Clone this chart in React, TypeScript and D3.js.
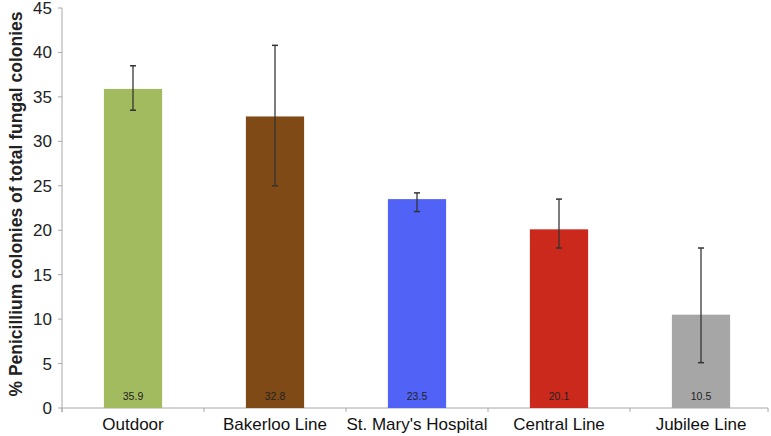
import React from 'react';
import * as d3 from 'd3';

const categories = ['Outdoor', 'Bakerloo Line', "St. Mary's Hospital", 'Central Line', 'Jubilee Line'];
const values = [35.9, 32.8, 23.5, 20.1, 10.5];
const errUp = [2.6, 8.0, 0.7, 3.4, 7.5];
const errDown = [2.4, 7.8, 1.4, 2.1, 5.4];
const colors = ['#a3bb5f', '#7f4a16', '#5162f7', '#cc291d', '#a6a6a6'];
const yTicks = [0, 5, 10, 15, 20, 25, 30, 35, 40, 45];

const W = 771;
const H = 436;
const left = 62;
const right = 772;
const top = 8;
const bottom = 408;

function App() {
  const x = d3.scaleBand<string>().domain(categories).range([left, right]).paddingInner(0.59).paddingOuter(0.295);
  const y = d3.scaleLinear().domain([0, 45]).range([bottom, top]);
  const gap = (x.step() - x.bandwidth()) / 2;
  const bounds = categories.map(c => (x(c) as number) - gap).concat([(x(categories[categories.length - 1]) as number) + x.bandwidth() + gap]);
  const axisColor = '#a8a8a8';

  return (
    <svg width={W} height={H} style={{ position: 'absolute', left: 0, top: 0, fontFamily: '"Liberation Sans", Arial, sans-serif' }}>
      <rect width={W} height={H} fill="#fff" />
      {/* axes */}
      <line x1={left} x2={left} y1={y(45)} y2={bottom + 4} stroke={axisColor} />
      <line x1={left} x2={W - 3} y1={bottom} y2={bottom} stroke={axisColor} />
      {yTicks.map(t => (
        <g key={t}>
          <line x1={left - 4} x2={left} y1={y(t)} y2={y(t)} stroke={axisColor} />
          <text x={52} y={y(t)} dy="0.35em" textAnchor="end" fontSize={17} fill="#222">{t}</text>
        </g>
      ))}
      {bounds.map((b, i) => (
        <line key={i} x1={Math.min(b, W - 3)} x2={Math.min(b, W - 3)} y1={bottom} y2={bottom + 4} stroke={axisColor} />
      ))}
      {/* bars */}
      {categories.map((c, i) => {
        const bx = x(c) as number;
        const cx = bx + x.bandwidth() / 2;
        return (
          <g key={c}>
            <rect x={bx} y={y(values[i])} width={x.bandwidth()} height={bottom - y(values[i])} fill={colors[i]} />
            <line x1={cx} x2={cx} y1={y(values[i] + errUp[i])} y2={y(values[i] - errDown[i])} stroke="#333" strokeWidth={1.5} strokeOpacity={0.85} />
            <line x1={cx - 3} x2={cx + 3} y1={y(values[i] + errUp[i])} y2={y(values[i] + errUp[i])} stroke="#333" strokeWidth={1.5} />
            <line x1={cx - 3} x2={cx + 3} y1={y(values[i] - errDown[i])} y2={y(values[i] - errDown[i])} stroke="#333" strokeWidth={1.5} />
            <text x={cx} y={400} textAnchor="middle" fontSize={10.5} fill="#222">{values[i]}</text>
            <text x={cx} y={430} textAnchor="middle" fontSize={17} fill="#111">{c}</text>
          </g>
        );
      })}
      {/* y title */}
      <text transform={`translate(22, 204) rotate(-90)`} textAnchor="middle" fontSize={17.5} fontWeight="bold" fill="#222">
        % Penicillium colonies of total fungal colonies
      </text>
    </svg>
  );
}

export default App;
